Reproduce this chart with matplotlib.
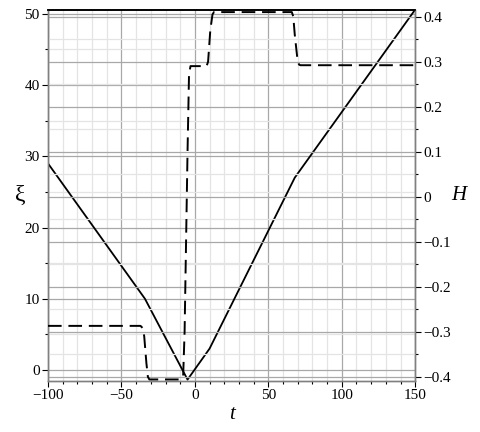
"""Maple-style twin-axis plot: xi(t) solid, H(t) dashed."""
import numpy as np
import matplotlib
matplotlib.use("Agg")
import matplotlib.pyplot as plt
from matplotlib.ticker import MultipleLocator, FixedLocator

plt.rcParams.update({"font.family": "Liberation Serif", "font.size": 11,
                     "axes.unicode_minus": True})

# xi(t), solid line
xi_t = [-100, -34, -5, 10, 68, 150]
xi_v = [29.0, 10.0, -1.35, 3.0, 27.0, 50.6]

# H(t), dashed line
H_t = [-100, -37, -35.5, -34.5, -33, -32, -31, -10, -8, -7, -5, -4, -3,
       8, 9, 10.5, 12, 13, 66, 67, 68, 70, 71, 72, 150]
H_v = [-0.287, -0.287, -0.292, -0.31, -0.37, -0.40, -0.406, -0.406, -0.40,
       -0.30, 0.10, 0.27, 0.29, 0.29, 0.30, 0.37, 0.405, 0.41, 0.41, 0.40,
       0.36, 0.30, 0.293, 0.292, 0.292]

MAJ = "#a8a8a8"; MIN = "#e4e4e4"; AX = "#808080"

fig = plt.figure(figsize=(4.8, 4.32), dpi=100)
ax = fig.add_axes([0.1, 0.118, 0.765, 0.859])
ax2 = ax.twinx()

ax.set_xlim(-100, 150)
ax.set_ylim(-1.55, 50.55)
ax2.set_ylim(-0.4095, 0.4148)

# grids
for v in np.arange(-100, 151, 10):
    ax.axvline(v, color=MAJ if v % 50 == 0 else MIN, lw=0.9, zorder=0)
for v in np.arange(0, 51, 5):
    ax.axhline(v, color=MAJ if v % 10 == 0 else MIN, lw=0.9, zorder=0)
for v in np.arange(-0.4, 0.41, 0.05):
    ax2.axhline(v, color=MAJ if abs(v * 10 - round(v * 10)) < 1e-6 else MIN,
                lw=0.9, zorder=0)

ax.plot(xi_t, xi_v, color="k", lw=1.3, zorder=3)
ax2.plot(H_t, H_v, color="k", lw=1.4, dashes=(7, 3.5), zorder=3)

ax.xaxis.set_major_locator(MultipleLocator(50))
ax.xaxis.set_minor_locator(MultipleLocator(10))
ax.yaxis.set_major_locator(MultipleLocator(10))
ax.yaxis.set_minor_locator(MultipleLocator(5))
ax2.yaxis.set_major_locator(FixedLocator(np.round(np.arange(-0.4, 0.41, 0.1), 1)))
ax2.yaxis.set_minor_locator(FixedLocator(np.round(np.arange(-0.35, 0.4, 0.1), 2)))
ax2.yaxis.set_major_formatter(plt.FuncFormatter(
    lambda v, p: "0" if abs(v) < 1e-9 else f"{v:.1f}".replace("-", "\u2212")))

for a in (ax, ax2):
    for s in ("left", "right", "bottom"):
        a.spines[s].set_color(AX)
        a.spines[s].set_linewidth(1.0)
    a.spines["top"].set_color("k")
    a.spines["top"].set_linewidth(1.2)
    a.tick_params(which="major", length=4, width=0.8, color="k", pad=2)
    a.tick_params(which="minor", length=2.5, width=0.8, color="k")

ax.set_xlabel("t", fontsize=15, fontstyle="italic")
ax.xaxis.set_label_coords(0.5, -0.065)
ax.set_ylabel("\u03be", fontsize=17, rotation=0, va="center")
ax.yaxis.set_label_coords(-0.075, 0.5)
ax2.set_ylabel("H", fontsize=15, fontstyle="italic", rotation=0, va="center")
ax2.yaxis.set_label_coords(1.12, 0.5)

fig.savefig("out.png", dpi=100)
